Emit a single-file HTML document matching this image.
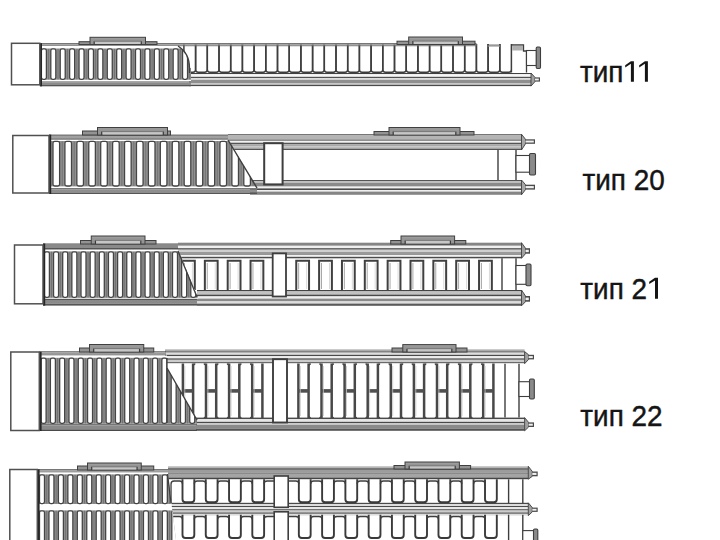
<!DOCTYPE html>
<html><head><meta charset="utf-8"><style>
html,body{margin:0;padding:0;background:#fff;overflow:hidden;}
svg{display:block;}
</style></head><body>
<svg width="720" height="540" viewBox="0 0 720 540">
<defs><clipPath id="c1"><path d="M40,46 H178 Q189.5,53 189.5,68 L191,68 V81.5 H40 Z"/></clipPath><clipPath id="c2"><path d="M49,139.5 H228 L257,188 V194.8 H49 Z"/></clipPath><clipPath id="c3"><path d="M43,250 H178 L197.5,297 V306 H43 Z"/></clipPath><clipPath id="c4"><path d="M39.5,355.3 H167 V368 L197,420 V432 H39.5 Z"/></clipPath><clipPath id="c5"><path d="M37.5,472.3 H167.5 L176,540 H37.5 Z"/></clipPath></defs>
<rect width="720" height="540" fill="#fff"/>
<path d="M183.90,44 V69.60000000000001 Q183.90,72.2 186.50,72.2 H193.00 Q195.60,72.2 195.60,69.60000000000001 V44" fill="none" stroke="#3e3e3e" stroke-width="1.5"/>
<path d="M195.60,44 V69.60000000000001 Q195.60,72.2 198.20,72.2 H204.70 Q207.30,72.2 207.30,69.60000000000001 V44" fill="none" stroke="#3e3e3e" stroke-width="1.5"/>
<path d="M207.30,44 V69.60000000000001 Q207.30,72.2 209.90,72.2 H216.40 Q219.00,72.2 219.00,69.60000000000001 V44" fill="none" stroke="#3e3e3e" stroke-width="1.5"/>
<path d="M219.00,44 V69.60000000000001 Q219.00,72.2 221.60,72.2 H228.10 Q230.70,72.2 230.70,69.60000000000001 V44" fill="none" stroke="#3e3e3e" stroke-width="1.5"/>
<path d="M230.70,44 V69.60000000000001 Q230.70,72.2 233.30,72.2 H239.80 Q242.40,72.2 242.40,69.60000000000001 V44" fill="none" stroke="#3e3e3e" stroke-width="1.5"/>
<path d="M242.40,44 V69.60000000000001 Q242.40,72.2 245.00,72.2 H251.50 Q254.10,72.2 254.10,69.60000000000001 V44" fill="none" stroke="#3e3e3e" stroke-width="1.5"/>
<path d="M254.10,44 V69.60000000000001 Q254.10,72.2 256.70,72.2 H263.20 Q265.80,72.2 265.80,69.60000000000001 V44" fill="none" stroke="#3e3e3e" stroke-width="1.5"/>
<path d="M265.80,44 V69.60000000000001 Q265.80,72.2 268.40,72.2 H274.90 Q277.50,72.2 277.50,69.60000000000001 V44" fill="none" stroke="#3e3e3e" stroke-width="1.5"/>
<path d="M277.50,44 V69.60000000000001 Q277.50,72.2 280.10,72.2 H286.60 Q289.20,72.2 289.20,69.60000000000001 V44" fill="none" stroke="#3e3e3e" stroke-width="1.5"/>
<path d="M289.20,44 V69.60000000000001 Q289.20,72.2 291.80,72.2 H298.30 Q300.90,72.2 300.90,69.60000000000001 V44" fill="none" stroke="#3e3e3e" stroke-width="1.5"/>
<path d="M300.90,44 V69.60000000000001 Q300.90,72.2 303.50,72.2 H310.00 Q312.60,72.2 312.60,69.60000000000001 V44" fill="none" stroke="#3e3e3e" stroke-width="1.5"/>
<path d="M312.60,44 V69.60000000000001 Q312.60,72.2 315.20,72.2 H321.70 Q324.30,72.2 324.30,69.60000000000001 V44" fill="none" stroke="#3e3e3e" stroke-width="1.5"/>
<path d="M324.30,44 V69.60000000000001 Q324.30,72.2 326.90,72.2 H333.40 Q336.00,72.2 336.00,69.60000000000001 V44" fill="none" stroke="#3e3e3e" stroke-width="1.5"/>
<path d="M336.00,44 V69.60000000000001 Q336.00,72.2 338.60,72.2 H345.10 Q347.70,72.2 347.70,69.60000000000001 V44" fill="none" stroke="#3e3e3e" stroke-width="1.5"/>
<path d="M347.70,44 V69.60000000000001 Q347.70,72.2 350.30,72.2 H356.80 Q359.40,72.2 359.40,69.60000000000001 V44" fill="none" stroke="#3e3e3e" stroke-width="1.5"/>
<path d="M359.40,44 V69.60000000000001 Q359.40,72.2 362.00,72.2 H368.50 Q371.10,72.2 371.10,69.60000000000001 V44" fill="none" stroke="#3e3e3e" stroke-width="1.5"/>
<path d="M371.10,44 V69.60000000000001 Q371.10,72.2 373.70,72.2 H380.20 Q382.80,72.2 382.80,69.60000000000001 V44" fill="none" stroke="#3e3e3e" stroke-width="1.5"/>
<path d="M382.80,44 V69.60000000000001 Q382.80,72.2 385.40,72.2 H391.90 Q394.50,72.2 394.50,69.60000000000001 V44" fill="none" stroke="#3e3e3e" stroke-width="1.5"/>
<path d="M394.50,44 V69.60000000000001 Q394.50,72.2 397.10,72.2 H403.60 Q406.20,72.2 406.20,69.60000000000001 V44" fill="none" stroke="#3e3e3e" stroke-width="1.5"/>
<path d="M406.20,44 V69.60000000000001 Q406.20,72.2 408.80,72.2 H415.30 Q417.90,72.2 417.90,69.60000000000001 V44" fill="none" stroke="#3e3e3e" stroke-width="1.5"/>
<path d="M417.90,44 V69.60000000000001 Q417.90,72.2 420.50,72.2 H427.00 Q429.60,72.2 429.60,69.60000000000001 V44" fill="none" stroke="#3e3e3e" stroke-width="1.5"/>
<path d="M429.60,44 V69.60000000000001 Q429.60,72.2 432.20,72.2 H438.70 Q441.30,72.2 441.30,69.60000000000001 V44" fill="none" stroke="#3e3e3e" stroke-width="1.5"/>
<path d="M441.30,44 V69.60000000000001 Q441.30,72.2 443.90,72.2 H450.40 Q453.00,72.2 453.00,69.60000000000001 V44" fill="none" stroke="#3e3e3e" stroke-width="1.5"/>
<path d="M453.00,44 V69.60000000000001 Q453.00,72.2 455.60,72.2 H462.10 Q464.70,72.2 464.70,69.60000000000001 V44" fill="none" stroke="#3e3e3e" stroke-width="1.5"/>
<path d="M464.70,44 V69.60000000000001 Q464.70,72.2 467.30,72.2 H473.80 Q476.40,72.2 476.40,69.60000000000001 V44" fill="none" stroke="#3e3e3e" stroke-width="1.5"/>
<path d="M476.40,44 V69.60000000000001 Q476.40,72.2 479.00,72.2 H485.50 Q488.10,72.2 488.10,69.60000000000001 V44" fill="none" stroke="#3e3e3e" stroke-width="1.5"/>
<path d="M488.10,44 V69.60000000000001 Q488.10,72.2 490.70,72.2 H497.20 Q499.80,72.2 499.80,69.60000000000001 V44" fill="none" stroke="#3e3e3e" stroke-width="1.5"/>
<path d="M499.80,44 V69.60000000000001 Q499.80,72.2 502.40,72.2 H508.90 Q511.50,72.2 511.50,69.60000000000001 V44" fill="none" stroke="#3e3e3e" stroke-width="1.5"/>
<rect x="189.00" y="73.00" width="342.00" height="1.20" fill="#404040"/>
<rect x="189.00" y="74.20" width="342.00" height="2.60" fill="#f6f6f6"/>
<rect x="189.00" y="76.80" width="342.00" height="1.20" fill="#505050"/>
<rect x="189.00" y="78.00" width="342.00" height="1.80" fill="#dcdcdc"/>
<rect x="189.00" y="79.80" width="342.00" height="3.70" fill="#8e8e8e"/>
<rect x="189.00" y="83.50" width="342.00" height="1.30" fill="#c8c8c8"/>
<rect x="189.00" y="84.80" width="342.00" height="1.30" fill="#4a4a4a"/>
<path d="M531,73 L535.00,77.4 L535.00,81.6 L531,86.1 Z" fill="#a0a0a0" stroke="#3e3e3e" stroke-width="0.9"/>
<rect x="535.00" y="77.40" width="5.00" height="4.20" fill="#4a4a4a"/>
<rect x="535.00" y="78.58" width="3.80" height="1.85" fill="#f0f0f0"/>
<rect x="40.00" y="43.20" width="436.50" height="1.00" fill="#555"/>
<rect x="40.00" y="44.20" width="436.50" height="1.20" fill="#9a9a9a"/>
<rect x="40.00" y="45.40" width="436.50" height="0.80" fill="#666"/>
<rect x="487.50" y="44.60" width="12.50" height="1.00" fill="#555"/>
<rect x="487.50" y="45.60" width="12.50" height="1.00" fill="#999"/>
<path d="M511.5,72.5 V45 H523.5 V51 H526.5 V72.5" fill="#fff" stroke="#3e3e3e" stroke-width="1.3"/>
<rect x="512.20" y="45.70" width="10.80" height="4.80" fill="#b0b0b0"/>
<rect x="526.50" y="50.50" width="10.00" height="15.00" fill="#fff" stroke="#3e3e3e" stroke-width="1.1"/>
<rect x="536.20" y="47.00" width="4.30" height="21.50" fill="#8a8a8a" stroke="#3e3e3e" stroke-width="1.1" rx="1.2"/>
<g clip-path="url(#c1)">
<rect x="40.00" y="46.00" width="152.00" height="35.50" fill="#fff"/>
<rect x="40.00" y="48.50" width="152.00" height="31.20" fill="#919191"/>
<line x1="39.20" y1="48.90" x2="39.20" y2="79.30" stroke="#737373" stroke-width="1.0"/>
<rect x="41.40" y="48.90" width="5.00" height="30.40" fill="#fff" stroke="#454545" stroke-width="1.3" rx="1.8"/>
<line x1="48.61" y1="48.90" x2="48.61" y2="79.30" stroke="#737373" stroke-width="1.0"/>
<rect x="50.81" y="48.90" width="5.00" height="30.40" fill="#fff" stroke="#454545" stroke-width="1.3" rx="1.8"/>
<line x1="58.02" y1="48.90" x2="58.02" y2="79.30" stroke="#737373" stroke-width="1.0"/>
<rect x="60.22" y="48.90" width="5.00" height="30.40" fill="#fff" stroke="#454545" stroke-width="1.3" rx="1.8"/>
<line x1="67.42" y1="48.90" x2="67.42" y2="79.30" stroke="#737373" stroke-width="1.0"/>
<rect x="69.63" y="48.90" width="5.00" height="30.40" fill="#fff" stroke="#454545" stroke-width="1.3" rx="1.8"/>
<line x1="76.83" y1="48.90" x2="76.83" y2="79.30" stroke="#737373" stroke-width="1.0"/>
<rect x="79.04" y="48.90" width="5.00" height="30.40" fill="#fff" stroke="#454545" stroke-width="1.3" rx="1.8"/>
<line x1="86.24" y1="48.90" x2="86.24" y2="79.30" stroke="#737373" stroke-width="1.0"/>
<rect x="88.45" y="48.90" width="5.00" height="30.40" fill="#fff" stroke="#454545" stroke-width="1.3" rx="1.8"/>
<line x1="95.65" y1="48.90" x2="95.65" y2="79.30" stroke="#737373" stroke-width="1.0"/>
<rect x="97.86" y="48.90" width="5.00" height="30.40" fill="#fff" stroke="#454545" stroke-width="1.3" rx="1.8"/>
<line x1="105.06" y1="48.90" x2="105.06" y2="79.30" stroke="#737373" stroke-width="1.0"/>
<rect x="107.27" y="48.90" width="5.00" height="30.40" fill="#fff" stroke="#454545" stroke-width="1.3" rx="1.8"/>
<line x1="114.47" y1="48.90" x2="114.47" y2="79.30" stroke="#737373" stroke-width="1.0"/>
<rect x="116.68" y="48.90" width="5.00" height="30.40" fill="#fff" stroke="#454545" stroke-width="1.3" rx="1.8"/>
<line x1="123.88" y1="48.90" x2="123.88" y2="79.30" stroke="#737373" stroke-width="1.0"/>
<rect x="126.09" y="48.90" width="5.00" height="30.40" fill="#fff" stroke="#454545" stroke-width="1.3" rx="1.8"/>
<line x1="133.29" y1="48.90" x2="133.29" y2="79.30" stroke="#737373" stroke-width="1.0"/>
<rect x="135.50" y="48.90" width="5.00" height="30.40" fill="#fff" stroke="#454545" stroke-width="1.3" rx="1.8"/>
<line x1="142.70" y1="48.90" x2="142.70" y2="79.30" stroke="#737373" stroke-width="1.0"/>
<rect x="144.91" y="48.90" width="5.00" height="30.40" fill="#fff" stroke="#454545" stroke-width="1.3" rx="1.8"/>
<line x1="152.11" y1="48.90" x2="152.11" y2="79.30" stroke="#737373" stroke-width="1.0"/>
<rect x="154.32" y="48.90" width="5.00" height="30.40" fill="#fff" stroke="#454545" stroke-width="1.3" rx="1.8"/>
<line x1="161.52" y1="48.90" x2="161.52" y2="79.30" stroke="#737373" stroke-width="1.0"/>
<rect x="163.73" y="48.90" width="5.00" height="30.40" fill="#fff" stroke="#454545" stroke-width="1.3" rx="1.8"/>
<line x1="170.93" y1="48.90" x2="170.93" y2="79.30" stroke="#737373" stroke-width="1.0"/>
<rect x="173.14" y="48.90" width="5.00" height="30.40" fill="#fff" stroke="#454545" stroke-width="1.3" rx="1.8"/>
<line x1="180.34" y1="48.90" x2="180.34" y2="79.30" stroke="#737373" stroke-width="1.0"/>
<rect x="182.55" y="48.90" width="5.00" height="30.40" fill="#fff" stroke="#454545" stroke-width="1.3" rx="1.8"/>
<line x1="189.75" y1="48.90" x2="189.75" y2="79.30" stroke="#737373" stroke-width="1.0"/>
<rect x="191.96" y="48.90" width="5.00" height="30.40" fill="#fff" stroke="#454545" stroke-width="1.3" rx="1.8"/>
<line x1="199.16" y1="48.90" x2="199.16" y2="79.30" stroke="#737373" stroke-width="1.0"/>
<rect x="201.37" y="48.90" width="5.00" height="30.40" fill="#fff" stroke="#454545" stroke-width="1.3" rx="1.8"/>
</g>
<path d="M178,46 Q189.5,53 189.5,68 V73" fill="none" stroke="#3e3e3e" stroke-width="1.3"/>
<rect x="40.00" y="81.50" width="151.00" height="0.80" fill="#555"/>
<rect x="40.00" y="82.30" width="151.00" height="2.70" fill="#8c8c8c"/>
<rect x="40.00" y="85.00" width="151.00" height="1.30" fill="#555"/>
<rect x="39.80" y="43.20" width="2.20" height="43.10" fill="#262626"/>
<rect x="11.50" y="43.30" width="28.30" height="41.50" fill="#fff" stroke="#505050" stroke-width="1.5"/>
<rect x="79.00" y="41.70" width="78.00" height="2.80" fill="#939393" stroke="#404040" stroke-width="1.0"/>
<rect x="90.00" y="37.30" width="55.50" height="7.20" fill="#959595" stroke="#404040" stroke-width="1.0"/>
<rect x="94.20" y="41.26" width="47.10" height="2.74" fill="#c6c6c6"/>
<line x1="94.20" y1="41.26" x2="94.20" y2="44.50" stroke="#3a3a3a" stroke-width="1.2"/>
<line x1="141.30" y1="41.26" x2="141.30" y2="44.50" stroke="#3a3a3a" stroke-width="1.2"/>
<line x1="94.20" y1="41.26" x2="141.30" y2="41.26" stroke="#6a6a6a" stroke-width="0.8"/>
<line x1="91.00" y1="38.70" x2="144.50" y2="38.70" stroke="#a0a0a0" stroke-width="0.8"/>
<rect x="397.00" y="41.20" width="78.00" height="3.30" fill="#939393" stroke="#404040" stroke-width="1.0"/>
<rect x="408.70" y="37.00" width="53.80" height="7.50" fill="#959595" stroke="#404040" stroke-width="1.0"/>
<rect x="412.90" y="41.12" width="45.40" height="2.88" fill="#c6c6c6"/>
<line x1="412.90" y1="41.12" x2="412.90" y2="44.50" stroke="#3a3a3a" stroke-width="1.2"/>
<line x1="458.30" y1="41.12" x2="458.30" y2="44.50" stroke="#3a3a3a" stroke-width="1.2"/>
<line x1="412.90" y1="41.12" x2="458.30" y2="41.12" stroke="#6a6a6a" stroke-width="0.8"/>
<line x1="409.70" y1="38.40" x2="461.50" y2="38.40" stroke="#a0a0a0" stroke-width="0.8"/>
<text x="0" y="0" transform="translate(580,81.7) scale(0.93,1)" font-family="Liberation Sans, sans-serif" font-size="30" fill="#151515" stroke="#151515" stroke-width="0.45">тип</text>
<path d="M630.90,61.20 H633.90 V81.70 H630.90 V63.80 L625.20,67.40 V65.20 Z" fill="#151515"/>
<path d="M644.90,61.20 H647.90 V81.70 H644.90 V63.80 L639.20,67.40 V65.20 Z" fill="#151515"/>
<rect x="228.00" y="134.20" width="293.50" height="1.20" fill="#555"/>
<rect x="228.00" y="135.40" width="293.50" height="4.20" fill="#b4b4b4"/>
<rect x="228.00" y="139.60" width="293.50" height="1.20" fill="#555"/>
<rect x="228.00" y="140.80" width="293.50" height="1.90" fill="#f2f2f2"/>
<rect x="228.00" y="142.70" width="293.50" height="1.70" fill="#555"/>
<rect x="228.00" y="144.40" width="293.50" height="2.00" fill="#a8a8a8"/>
<rect x="228.00" y="146.40" width="293.50" height="2.20" fill="#bdbdbd"/>
<rect x="228.00" y="148.60" width="293.50" height="1.40" fill="#555"/>
<path d="M521.5,134.2 L525.50,139.3 L525.50,143.8 L521.5,150 Z" fill="#a6a6a6" stroke="#3e3e3e" stroke-width="0.9"/>
<rect x="525.50" y="139.30" width="9.50" height="4.50" fill="#4a4a4a"/>
<rect x="525.50" y="140.56" width="8.30" height="1.98" fill="#f0f0f0"/>
<rect x="250.00" y="180.00" width="271.50" height="1.30" fill="#555"/>
<rect x="250.00" y="181.30" width="271.50" height="1.70" fill="#bdbdbd"/>
<rect x="250.00" y="183.00" width="271.50" height="3.60" fill="#8a8a8a"/>
<rect x="250.00" y="186.60" width="271.50" height="1.80" fill="#f0f0f0"/>
<rect x="250.00" y="188.40" width="271.50" height="1.60" fill="#4a4a4a"/>
<rect x="250.00" y="190.00" width="271.50" height="1.60" fill="#efefef"/>
<rect x="250.00" y="191.60" width="271.50" height="3.20" fill="#858585"/>
<path d="M521.5,180 L525.50,184.7 L525.50,189.6 L521.5,194.8 Z" fill="#a6a6a6" stroke="#3e3e3e" stroke-width="0.9"/>
<rect x="525.50" y="184.70" width="9.50" height="4.90" fill="#4a4a4a"/>
<rect x="525.50" y="186.07" width="8.30" height="2.16" fill="#f0f0f0"/>
<rect x="264.20" y="143.20" width="18.40" height="41.20" fill="#fff" stroke="#3e3e3e" stroke-width="2.0"/>
<line x1="498.00" y1="150.00" x2="498.00" y2="180.00" stroke="#3e3e3e" stroke-width="1.4"/>
<line x1="516.00" y1="150.00" x2="516.00" y2="180.00" stroke="#3e3e3e" stroke-width="1.4"/>
<rect x="516.00" y="155.50" width="14.00" height="16.70" fill="#fff" stroke="#3e3e3e" stroke-width="1.1"/>
<rect x="529.50" y="153.50" width="6.00" height="21.50" fill="#8a8a8a" stroke="#3e3e3e" stroke-width="1.1" rx="1.2"/>
<g clip-path="url(#c2)">
<rect x="49.00" y="139.00" width="211.00" height="50.00" fill="#fff"/>
<rect x="49.00" y="141.00" width="211.00" height="45.40" fill="#919191"/>
<line x1="50.34" y1="141.40" x2="50.34" y2="186.00" stroke="#737373" stroke-width="1.0"/>
<rect x="53.00" y="141.40" width="6.60" height="44.60" fill="#fff" stroke="#454545" stroke-width="1.3" rx="1.8"/>
<line x1="62.26" y1="141.40" x2="62.26" y2="186.00" stroke="#737373" stroke-width="1.0"/>
<rect x="64.92" y="141.40" width="6.60" height="44.60" fill="#fff" stroke="#454545" stroke-width="1.3" rx="1.8"/>
<line x1="74.19" y1="141.40" x2="74.19" y2="186.00" stroke="#737373" stroke-width="1.0"/>
<rect x="76.85" y="141.40" width="6.60" height="44.60" fill="#fff" stroke="#454545" stroke-width="1.3" rx="1.8"/>
<line x1="86.11" y1="141.40" x2="86.11" y2="186.00" stroke="#737373" stroke-width="1.0"/>
<rect x="88.77" y="141.40" width="6.60" height="44.60" fill="#fff" stroke="#454545" stroke-width="1.3" rx="1.8"/>
<line x1="98.04" y1="141.40" x2="98.04" y2="186.00" stroke="#737373" stroke-width="1.0"/>
<rect x="100.70" y="141.40" width="6.60" height="44.60" fill="#fff" stroke="#454545" stroke-width="1.3" rx="1.8"/>
<line x1="109.96" y1="141.40" x2="109.96" y2="186.00" stroke="#737373" stroke-width="1.0"/>
<rect x="112.62" y="141.40" width="6.60" height="44.60" fill="#fff" stroke="#454545" stroke-width="1.3" rx="1.8"/>
<line x1="121.89" y1="141.40" x2="121.89" y2="186.00" stroke="#737373" stroke-width="1.0"/>
<rect x="124.55" y="141.40" width="6.60" height="44.60" fill="#fff" stroke="#454545" stroke-width="1.3" rx="1.8"/>
<line x1="133.81" y1="141.40" x2="133.81" y2="186.00" stroke="#737373" stroke-width="1.0"/>
<rect x="136.47" y="141.40" width="6.60" height="44.60" fill="#fff" stroke="#454545" stroke-width="1.3" rx="1.8"/>
<line x1="145.74" y1="141.40" x2="145.74" y2="186.00" stroke="#737373" stroke-width="1.0"/>
<rect x="148.40" y="141.40" width="6.60" height="44.60" fill="#fff" stroke="#454545" stroke-width="1.3" rx="1.8"/>
<line x1="157.66" y1="141.40" x2="157.66" y2="186.00" stroke="#737373" stroke-width="1.0"/>
<rect x="160.32" y="141.40" width="6.60" height="44.60" fill="#fff" stroke="#454545" stroke-width="1.3" rx="1.8"/>
<line x1="169.59" y1="141.40" x2="169.59" y2="186.00" stroke="#737373" stroke-width="1.0"/>
<rect x="172.25" y="141.40" width="6.60" height="44.60" fill="#fff" stroke="#454545" stroke-width="1.3" rx="1.8"/>
<line x1="181.51" y1="141.40" x2="181.51" y2="186.00" stroke="#737373" stroke-width="1.0"/>
<rect x="184.18" y="141.40" width="6.60" height="44.60" fill="#fff" stroke="#454545" stroke-width="1.3" rx="1.8"/>
<line x1="193.44" y1="141.40" x2="193.44" y2="186.00" stroke="#737373" stroke-width="1.0"/>
<rect x="196.10" y="141.40" width="6.60" height="44.60" fill="#fff" stroke="#454545" stroke-width="1.3" rx="1.8"/>
<line x1="205.36" y1="141.40" x2="205.36" y2="186.00" stroke="#737373" stroke-width="1.0"/>
<rect x="208.03" y="141.40" width="6.60" height="44.60" fill="#fff" stroke="#454545" stroke-width="1.3" rx="1.8"/>
<line x1="217.29" y1="141.40" x2="217.29" y2="186.00" stroke="#737373" stroke-width="1.0"/>
<rect x="219.95" y="141.40" width="6.60" height="44.60" fill="#fff" stroke="#454545" stroke-width="1.3" rx="1.8"/>
<line x1="229.21" y1="141.40" x2="229.21" y2="186.00" stroke="#737373" stroke-width="1.0"/>
<rect x="231.88" y="141.40" width="6.60" height="44.60" fill="#fff" stroke="#454545" stroke-width="1.3" rx="1.8"/>
<line x1="241.14" y1="141.40" x2="241.14" y2="186.00" stroke="#737373" stroke-width="1.0"/>
<rect x="243.80" y="141.40" width="6.60" height="44.60" fill="#fff" stroke="#454545" stroke-width="1.3" rx="1.8"/>
<line x1="253.06" y1="141.40" x2="253.06" y2="186.00" stroke="#737373" stroke-width="1.0"/>
<rect x="255.73" y="141.40" width="6.60" height="44.60" fill="#fff" stroke="#454545" stroke-width="1.3" rx="1.8"/>
<line x1="264.99" y1="141.40" x2="264.99" y2="186.00" stroke="#737373" stroke-width="1.0"/>
<rect x="267.65" y="141.40" width="6.60" height="44.60" fill="#fff" stroke="#454545" stroke-width="1.3" rx="1.8"/>
</g>
<line x1="228.00" y1="140.00" x2="257.00" y2="188.00" stroke="#3e3e3e" stroke-width="1.4"/>
<rect x="49.00" y="134.60" width="179.00" height="1.20" fill="#555"/>
<rect x="49.00" y="135.80" width="179.00" height="2.60" fill="#a0a0a0"/>
<rect x="49.00" y="138.40" width="179.00" height="1.20" fill="#555"/>
<rect x="49.00" y="188.20" width="208.00" height="1.20" fill="#555"/>
<rect x="49.00" y="189.40" width="208.00" height="3.10" fill="#8e8e8e"/>
<rect x="49.00" y="192.50" width="208.00" height="1.50" fill="#555"/>
<rect x="49.00" y="134.60" width="2.20" height="59.40" fill="#262626"/>
<rect x="12.80" y="135.50" width="36.20" height="57.50" fill="#fff" stroke="#505050" stroke-width="1.5"/>
<rect x="82.50" y="131.00" width="88.00" height="4.00" fill="#939393" stroke="#404040" stroke-width="1.0"/>
<rect x="97.50" y="127.50" width="70.00" height="7.50" fill="#959595" stroke="#404040" stroke-width="1.0"/>
<rect x="101.70" y="131.62" width="61.60" height="2.88" fill="#c6c6c6"/>
<line x1="101.70" y1="131.62" x2="101.70" y2="135.00" stroke="#3a3a3a" stroke-width="1.2"/>
<line x1="163.30" y1="131.62" x2="163.30" y2="135.00" stroke="#3a3a3a" stroke-width="1.2"/>
<line x1="101.70" y1="131.62" x2="163.30" y2="131.62" stroke="#6a6a6a" stroke-width="0.8"/>
<line x1="98.50" y1="128.90" x2="166.50" y2="128.90" stroke="#a0a0a0" stroke-width="0.8"/>
<rect x="374.00" y="131.50" width="100.00" height="3.50" fill="#939393" stroke="#404040" stroke-width="1.0"/>
<rect x="389.00" y="127.50" width="71.00" height="7.50" fill="#959595" stroke="#404040" stroke-width="1.0"/>
<rect x="393.20" y="131.62" width="62.60" height="2.88" fill="#c6c6c6"/>
<line x1="393.20" y1="131.62" x2="393.20" y2="135.00" stroke="#3a3a3a" stroke-width="1.2"/>
<line x1="455.80" y1="131.62" x2="455.80" y2="135.00" stroke="#3a3a3a" stroke-width="1.2"/>
<line x1="393.20" y1="131.62" x2="455.80" y2="131.62" stroke="#6a6a6a" stroke-width="0.8"/>
<line x1="390.00" y1="128.90" x2="459.00" y2="128.90" stroke="#a0a0a0" stroke-width="0.8"/>
<text x="0" y="0" transform="translate(582.5,190.3) scale(0.93,1)" font-family="Liberation Sans, sans-serif" font-size="30" fill="#151515" stroke="#151515" stroke-width="0.45">тип 20</text>
<rect x="178.00" y="242.70" width="343.50" height="3.10" fill="#858585"/>
<rect x="178.00" y="245.80" width="343.50" height="2.40" fill="#efefef"/>
<rect x="178.00" y="248.20" width="343.50" height="1.50" fill="#4a4a4a"/>
<rect x="178.00" y="249.70" width="343.50" height="2.30" fill="#cfcfcf"/>
<rect x="178.00" y="252.00" width="343.50" height="2.30" fill="#9a9a9a"/>
<rect x="178.00" y="254.30" width="343.50" height="0.90" fill="#777"/>
<rect x="178.00" y="255.20" width="343.50" height="1.60" fill="#f4f4f4"/>
<rect x="178.00" y="256.80" width="343.50" height="1.50" fill="#4a4a4a"/>
<path d="M521.5,242.7 L525.50,248.2 L525.50,253.7 L521.5,258.3 Z" fill="#a0a0a0" stroke="#3e3e3e" stroke-width="0.9"/>
<rect x="525.50" y="248.20" width="4.50" height="5.50" fill="#4a4a4a"/>
<rect x="525.50" y="249.74" width="3.30" height="2.42" fill="#f0f0f0"/>
<rect x="197.00" y="290.00" width="324.50" height="1.40" fill="#444"/>
<rect x="197.00" y="291.40" width="324.50" height="3.20" fill="#c2c2c2"/>
<rect x="197.00" y="294.60" width="324.50" height="1.80" fill="#4a4a4a"/>
<rect x="197.00" y="296.40" width="324.50" height="2.20" fill="#f0f0f0"/>
<rect x="197.00" y="298.60" width="324.50" height="2.80" fill="#8a8a8a"/>
<rect x="197.00" y="301.40" width="324.50" height="2.20" fill="#dddddd"/>
<rect x="197.00" y="303.60" width="324.50" height="2.20" fill="#5a5a5a"/>
<path d="M521.5,290 L525.50,296 L525.50,301.7 L521.5,305.8 Z" fill="#a0a0a0" stroke="#3e3e3e" stroke-width="0.9"/>
<rect x="525.50" y="296.00" width="4.50" height="5.70" fill="#4a4a4a"/>
<rect x="525.50" y="297.60" width="3.30" height="2.51" fill="#f0f0f0"/>
<path d="M182.00,290 V260.8 H194.80 V290" fill="none" stroke="#404040" stroke-width="2.0"/>
<line x1="184.40" y1="263.00" x2="184.40" y2="289.00" stroke="#a8a8a8" stroke-width="1.0"/>
<line x1="192.40" y1="263.00" x2="192.40" y2="289.00" stroke="#d0d0d0" stroke-width="0.8"/>
<path d="M204.85,290 V260.8 H217.65 V290" fill="none" stroke="#404040" stroke-width="2.0"/>
<line x1="207.25" y1="263.00" x2="207.25" y2="289.00" stroke="#a8a8a8" stroke-width="1.0"/>
<line x1="215.25" y1="263.00" x2="215.25" y2="289.00" stroke="#d0d0d0" stroke-width="0.8"/>
<path d="M227.70,290 V260.8 H240.50 V290" fill="none" stroke="#404040" stroke-width="2.0"/>
<line x1="230.10" y1="263.00" x2="230.10" y2="289.00" stroke="#a8a8a8" stroke-width="1.0"/>
<line x1="238.10" y1="263.00" x2="238.10" y2="289.00" stroke="#d0d0d0" stroke-width="0.8"/>
<path d="M250.55,290 V260.8 H263.35 V290" fill="none" stroke="#404040" stroke-width="2.0"/>
<line x1="252.95" y1="263.00" x2="252.95" y2="289.00" stroke="#a8a8a8" stroke-width="1.0"/>
<line x1="260.95" y1="263.00" x2="260.95" y2="289.00" stroke="#d0d0d0" stroke-width="0.8"/>
<path d="M296.25,290 V260.8 H309.05 V290" fill="none" stroke="#404040" stroke-width="2.0"/>
<line x1="298.65" y1="263.00" x2="298.65" y2="289.00" stroke="#a8a8a8" stroke-width="1.0"/>
<line x1="306.65" y1="263.00" x2="306.65" y2="289.00" stroke="#d0d0d0" stroke-width="0.8"/>
<path d="M319.10,290 V260.8 H331.90 V290" fill="none" stroke="#404040" stroke-width="2.0"/>
<line x1="321.50" y1="263.00" x2="321.50" y2="289.00" stroke="#a8a8a8" stroke-width="1.0"/>
<line x1="329.50" y1="263.00" x2="329.50" y2="289.00" stroke="#d0d0d0" stroke-width="0.8"/>
<path d="M341.95,290 V260.8 H354.75 V290" fill="none" stroke="#404040" stroke-width="2.0"/>
<line x1="344.35" y1="263.00" x2="344.35" y2="289.00" stroke="#a8a8a8" stroke-width="1.0"/>
<line x1="352.35" y1="263.00" x2="352.35" y2="289.00" stroke="#d0d0d0" stroke-width="0.8"/>
<path d="M364.80,290 V260.8 H377.60 V290" fill="none" stroke="#404040" stroke-width="2.0"/>
<line x1="367.20" y1="263.00" x2="367.20" y2="289.00" stroke="#a8a8a8" stroke-width="1.0"/>
<line x1="375.20" y1="263.00" x2="375.20" y2="289.00" stroke="#d0d0d0" stroke-width="0.8"/>
<path d="M387.65,290 V260.8 H400.45 V290" fill="none" stroke="#404040" stroke-width="2.0"/>
<line x1="390.05" y1="263.00" x2="390.05" y2="289.00" stroke="#a8a8a8" stroke-width="1.0"/>
<line x1="398.05" y1="263.00" x2="398.05" y2="289.00" stroke="#d0d0d0" stroke-width="0.8"/>
<path d="M410.50,290 V260.8 H423.30 V290" fill="none" stroke="#404040" stroke-width="2.0"/>
<line x1="412.90" y1="263.00" x2="412.90" y2="289.00" stroke="#a8a8a8" stroke-width="1.0"/>
<line x1="420.90" y1="263.00" x2="420.90" y2="289.00" stroke="#d0d0d0" stroke-width="0.8"/>
<path d="M433.35,290 V260.8 H446.15 V290" fill="none" stroke="#404040" stroke-width="2.0"/>
<line x1="435.75" y1="263.00" x2="435.75" y2="289.00" stroke="#a8a8a8" stroke-width="1.0"/>
<line x1="443.75" y1="263.00" x2="443.75" y2="289.00" stroke="#d0d0d0" stroke-width="0.8"/>
<path d="M456.20,290 V260.8 H469.00 V290" fill="none" stroke="#404040" stroke-width="2.0"/>
<line x1="458.60" y1="263.00" x2="458.60" y2="289.00" stroke="#a8a8a8" stroke-width="1.0"/>
<line x1="466.60" y1="263.00" x2="466.60" y2="289.00" stroke="#d0d0d0" stroke-width="0.8"/>
<path d="M479.05,290 V260.8 H491.85 V290" fill="none" stroke="#404040" stroke-width="2.0"/>
<line x1="481.45" y1="263.00" x2="481.45" y2="289.00" stroke="#a8a8a8" stroke-width="1.0"/>
<line x1="489.45" y1="263.00" x2="489.45" y2="289.00" stroke="#d0d0d0" stroke-width="0.8"/>
<rect x="272.70" y="253.40" width="13.30" height="43.10" fill="#fff" stroke="#3e3e3e" stroke-width="1.8"/>
<line x1="502.00" y1="258.30" x2="502.00" y2="290.00" stroke="#3e3e3e" stroke-width="1.4"/>
<line x1="516.00" y1="258.30" x2="516.00" y2="290.00" stroke="#3e3e3e" stroke-width="1.4"/>
<rect x="516.00" y="265.50" width="10.50" height="18.80" fill="#fff" stroke="#3e3e3e" stroke-width="1.1"/>
<rect x="526.00" y="264.00" width="5.00" height="21.70" fill="#8a8a8a" stroke="#3e3e3e" stroke-width="1.1" rx="1.2"/>
<g clip-path="url(#c3)">
<rect x="43.00" y="249.00" width="157.00" height="50.00" fill="#fff"/>
<rect x="43.00" y="251.40" width="157.00" height="46.40" fill="#919191"/>
<line x1="42.32" y1="251.80" x2="42.32" y2="297.40" stroke="#737373" stroke-width="1.0"/>
<rect x="44.40" y="251.80" width="5.00" height="45.60" fill="#fff" stroke="#454545" stroke-width="1.3" rx="1.8"/>
<line x1="51.47" y1="251.80" x2="51.47" y2="297.40" stroke="#737373" stroke-width="1.0"/>
<rect x="53.55" y="251.80" width="5.00" height="45.60" fill="#fff" stroke="#454545" stroke-width="1.3" rx="1.8"/>
<line x1="60.62" y1="251.80" x2="60.62" y2="297.40" stroke="#737373" stroke-width="1.0"/>
<rect x="62.70" y="251.80" width="5.00" height="45.60" fill="#fff" stroke="#454545" stroke-width="1.3" rx="1.8"/>
<line x1="69.78" y1="251.80" x2="69.78" y2="297.40" stroke="#737373" stroke-width="1.0"/>
<rect x="71.85" y="251.80" width="5.00" height="45.60" fill="#fff" stroke="#454545" stroke-width="1.3" rx="1.8"/>
<line x1="78.93" y1="251.80" x2="78.93" y2="297.40" stroke="#737373" stroke-width="1.0"/>
<rect x="81.00" y="251.80" width="5.00" height="45.60" fill="#fff" stroke="#454545" stroke-width="1.3" rx="1.8"/>
<line x1="88.08" y1="251.80" x2="88.08" y2="297.40" stroke="#737373" stroke-width="1.0"/>
<rect x="90.15" y="251.80" width="5.00" height="45.60" fill="#fff" stroke="#454545" stroke-width="1.3" rx="1.8"/>
<line x1="97.23" y1="251.80" x2="97.23" y2="297.40" stroke="#737373" stroke-width="1.0"/>
<rect x="99.30" y="251.80" width="5.00" height="45.60" fill="#fff" stroke="#454545" stroke-width="1.3" rx="1.8"/>
<line x1="106.38" y1="251.80" x2="106.38" y2="297.40" stroke="#737373" stroke-width="1.0"/>
<rect x="108.45" y="251.80" width="5.00" height="45.60" fill="#fff" stroke="#454545" stroke-width="1.3" rx="1.8"/>
<line x1="115.53" y1="251.80" x2="115.53" y2="297.40" stroke="#737373" stroke-width="1.0"/>
<rect x="117.60" y="251.80" width="5.00" height="45.60" fill="#fff" stroke="#454545" stroke-width="1.3" rx="1.8"/>
<line x1="124.68" y1="251.80" x2="124.68" y2="297.40" stroke="#737373" stroke-width="1.0"/>
<rect x="126.75" y="251.80" width="5.00" height="45.60" fill="#fff" stroke="#454545" stroke-width="1.3" rx="1.8"/>
<line x1="133.83" y1="251.80" x2="133.83" y2="297.40" stroke="#737373" stroke-width="1.0"/>
<rect x="135.90" y="251.80" width="5.00" height="45.60" fill="#fff" stroke="#454545" stroke-width="1.3" rx="1.8"/>
<line x1="142.98" y1="251.80" x2="142.98" y2="297.40" stroke="#737373" stroke-width="1.0"/>
<rect x="145.05" y="251.80" width="5.00" height="45.60" fill="#fff" stroke="#454545" stroke-width="1.3" rx="1.8"/>
<line x1="152.13" y1="251.80" x2="152.13" y2="297.40" stroke="#737373" stroke-width="1.0"/>
<rect x="154.20" y="251.80" width="5.00" height="45.60" fill="#fff" stroke="#454545" stroke-width="1.3" rx="1.8"/>
<line x1="161.28" y1="251.80" x2="161.28" y2="297.40" stroke="#737373" stroke-width="1.0"/>
<rect x="163.35" y="251.80" width="5.00" height="45.60" fill="#fff" stroke="#454545" stroke-width="1.3" rx="1.8"/>
<line x1="170.43" y1="251.80" x2="170.43" y2="297.40" stroke="#737373" stroke-width="1.0"/>
<rect x="172.50" y="251.80" width="5.00" height="45.60" fill="#fff" stroke="#454545" stroke-width="1.3" rx="1.8"/>
<line x1="179.58" y1="251.80" x2="179.58" y2="297.40" stroke="#737373" stroke-width="1.0"/>
<rect x="181.65" y="251.80" width="5.00" height="45.60" fill="#fff" stroke="#454545" stroke-width="1.3" rx="1.8"/>
<line x1="188.73" y1="251.80" x2="188.73" y2="297.40" stroke="#737373" stroke-width="1.0"/>
<rect x="190.80" y="251.80" width="5.00" height="45.60" fill="#fff" stroke="#454545" stroke-width="1.3" rx="1.8"/>
<line x1="197.88" y1="251.80" x2="197.88" y2="297.40" stroke="#737373" stroke-width="1.0"/>
<rect x="199.95" y="251.80" width="5.00" height="45.60" fill="#fff" stroke="#454545" stroke-width="1.3" rx="1.8"/>
<line x1="207.03" y1="251.80" x2="207.03" y2="297.40" stroke="#737373" stroke-width="1.0"/>
<rect x="209.10" y="251.80" width="5.00" height="45.60" fill="#fff" stroke="#454545" stroke-width="1.3" rx="1.8"/>
</g>
<line x1="178.00" y1="251.00" x2="197.00" y2="297.00" stroke="#3e3e3e" stroke-width="1.3"/>
<rect x="43.00" y="243.50" width="135.00" height="1.20" fill="#555"/>
<rect x="43.00" y="244.70" width="135.00" height="3.30" fill="#8a8a8a"/>
<rect x="43.00" y="248.00" width="135.00" height="1.50" fill="#555"/>
<rect x="43.00" y="298.80" width="154.00" height="1.20" fill="#555"/>
<rect x="43.00" y="300.00" width="154.00" height="3.80" fill="#8a8a8a"/>
<rect x="43.00" y="303.80" width="154.00" height="1.80" fill="#555"/>
<rect x="43.00" y="243.50" width="2.20" height="62.10" fill="#262626"/>
<rect x="14.50" y="245.00" width="28.50" height="58.80" fill="#fff" stroke="#505050" stroke-width="1.5"/>
<rect x="80.50" y="240.50" width="75.50" height="3.50" fill="#939393" stroke="#404040" stroke-width="1.0"/>
<rect x="91.25" y="236.00" width="53.75" height="8.00" fill="#959595" stroke="#404040" stroke-width="1.0"/>
<rect x="95.45" y="240.40" width="45.35" height="3.10" fill="#c6c6c6"/>
<line x1="95.45" y1="240.40" x2="95.45" y2="244.00" stroke="#3a3a3a" stroke-width="1.2"/>
<line x1="140.80" y1="240.40" x2="140.80" y2="244.00" stroke="#3a3a3a" stroke-width="1.2"/>
<line x1="95.45" y1="240.40" x2="140.80" y2="240.40" stroke="#6a6a6a" stroke-width="0.8"/>
<line x1="92.25" y1="237.40" x2="144.00" y2="237.40" stroke="#a0a0a0" stroke-width="0.8"/>
<rect x="390.70" y="240.50" width="75.10" height="3.50" fill="#939393" stroke="#404040" stroke-width="1.0"/>
<rect x="401.00" y="236.00" width="53.60" height="8.00" fill="#959595" stroke="#404040" stroke-width="1.0"/>
<rect x="405.20" y="240.40" width="45.20" height="3.10" fill="#c6c6c6"/>
<line x1="405.20" y1="240.40" x2="405.20" y2="244.00" stroke="#3a3a3a" stroke-width="1.2"/>
<line x1="450.40" y1="240.40" x2="450.40" y2="244.00" stroke="#3a3a3a" stroke-width="1.2"/>
<line x1="405.20" y1="240.40" x2="450.40" y2="240.40" stroke="#6a6a6a" stroke-width="0.8"/>
<line x1="402.00" y1="237.40" x2="453.60" y2="237.40" stroke="#a0a0a0" stroke-width="0.8"/>
<text x="0" y="0" transform="translate(580.3,298.7) scale(0.93,1)" font-family="Liberation Sans, sans-serif" font-size="30" fill="#151515" stroke="#151515" stroke-width="0.45">тип 2</text>
<path d="M655.00,277.80 H658.00 V298.70 H655.00 V280.40 L649.20,284.00 V281.80 Z" fill="#151515"/>
<rect x="165.00" y="349.40" width="359.60" height="1.00" fill="#aaaaaa"/>
<rect x="165.00" y="350.40" width="359.60" height="1.00" fill="#8a8a8a"/>
<rect x="165.00" y="351.40" width="359.60" height="1.20" fill="#505050"/>
<rect x="165.00" y="352.60" width="359.60" height="2.20" fill="#dddddd"/>
<rect x="165.00" y="354.80" width="359.60" height="1.40" fill="#4a4a4a"/>
<rect x="165.00" y="356.20" width="359.60" height="2.20" fill="#eeeeee"/>
<rect x="165.00" y="358.40" width="359.60" height="1.40" fill="#4a4a4a"/>
<rect x="165.00" y="359.80" width="359.60" height="2.20" fill="#cccccc"/>
<rect x="165.00" y="362.00" width="359.60" height="1.20" fill="#6a6a6a"/>
<path d="M524.6,351.6 L528.60,354.8 L528.60,359.4 L524.6,363.7 Z" fill="#a0a0a0" stroke="#3e3e3e" stroke-width="0.9"/>
<rect x="528.60" y="354.80" width="5.40" height="4.60" fill="#4a4a4a"/>
<rect x="528.60" y="356.09" width="4.20" height="2.02" fill="#f0f0f0"/>
<rect x="196.00" y="417.60" width="328.60" height="1.60" fill="#4a4a4a"/>
<rect x="196.00" y="419.20" width="328.60" height="2.60" fill="#e6e6e6"/>
<rect x="196.00" y="421.80" width="328.60" height="1.40" fill="#4a4a4a"/>
<rect x="196.00" y="423.20" width="328.60" height="1.80" fill="#c6c6c6"/>
<rect x="196.00" y="425.00" width="328.60" height="3.60" fill="#8a8a8a"/>
<rect x="196.00" y="428.60" width="328.60" height="2.20" fill="#555"/>
<path d="M524.6,417.6 L528.60,422.4 L528.60,427 L524.6,430.8 Z" fill="#a0a0a0" stroke="#3e3e3e" stroke-width="0.9"/>
<rect x="528.60" y="422.40" width="5.40" height="4.60" fill="#4a4a4a"/>
<rect x="528.60" y="423.69" width="4.20" height="2.02" fill="#f0f0f0"/>
<line x1="182.90" y1="363.50" x2="182.90" y2="418.00" stroke="#484848" stroke-width="2.5"/>
<line x1="193.10" y1="363.50" x2="193.10" y2="418.00" stroke="#484848" stroke-width="2.5"/>
<line x1="182.90" y1="390.90" x2="193.10" y2="390.90" stroke="#505050" stroke-width="3.6"/>
<line x1="184.80" y1="366.00" x2="184.80" y2="416.00" stroke="#c4c4c4" stroke-width="0.8"/>
<line x1="206.00" y1="363.50" x2="206.00" y2="418.00" stroke="#484848" stroke-width="2.5"/>
<line x1="216.20" y1="363.50" x2="216.20" y2="418.00" stroke="#484848" stroke-width="2.5"/>
<line x1="206.00" y1="390.90" x2="216.20" y2="390.90" stroke="#505050" stroke-width="3.6"/>
<line x1="207.90" y1="366.00" x2="207.90" y2="416.00" stroke="#c4c4c4" stroke-width="0.8"/>
<line x1="229.10" y1="363.50" x2="229.10" y2="418.00" stroke="#484848" stroke-width="2.5"/>
<line x1="239.30" y1="363.50" x2="239.30" y2="418.00" stroke="#484848" stroke-width="2.5"/>
<line x1="229.10" y1="390.90" x2="239.30" y2="390.90" stroke="#505050" stroke-width="3.6"/>
<line x1="231.00" y1="366.00" x2="231.00" y2="416.00" stroke="#c4c4c4" stroke-width="0.8"/>
<line x1="252.20" y1="363.50" x2="252.20" y2="418.00" stroke="#484848" stroke-width="2.5"/>
<line x1="262.40" y1="363.50" x2="262.40" y2="418.00" stroke="#484848" stroke-width="2.5"/>
<line x1="252.20" y1="390.90" x2="262.40" y2="390.90" stroke="#505050" stroke-width="3.6"/>
<line x1="254.10" y1="366.00" x2="254.10" y2="416.00" stroke="#c4c4c4" stroke-width="0.8"/>
<line x1="298.40" y1="363.50" x2="298.40" y2="418.00" stroke="#484848" stroke-width="2.5"/>
<line x1="308.60" y1="363.50" x2="308.60" y2="418.00" stroke="#484848" stroke-width="2.5"/>
<line x1="298.40" y1="390.90" x2="308.60" y2="390.90" stroke="#505050" stroke-width="3.6"/>
<line x1="300.30" y1="366.00" x2="300.30" y2="416.00" stroke="#c4c4c4" stroke-width="0.8"/>
<line x1="321.50" y1="363.50" x2="321.50" y2="418.00" stroke="#484848" stroke-width="2.5"/>
<line x1="331.70" y1="363.50" x2="331.70" y2="418.00" stroke="#484848" stroke-width="2.5"/>
<line x1="321.50" y1="390.90" x2="331.70" y2="390.90" stroke="#505050" stroke-width="3.6"/>
<line x1="323.40" y1="366.00" x2="323.40" y2="416.00" stroke="#c4c4c4" stroke-width="0.8"/>
<line x1="344.60" y1="363.50" x2="344.60" y2="418.00" stroke="#484848" stroke-width="2.5"/>
<line x1="354.80" y1="363.50" x2="354.80" y2="418.00" stroke="#484848" stroke-width="2.5"/>
<line x1="344.60" y1="390.90" x2="354.80" y2="390.90" stroke="#505050" stroke-width="3.6"/>
<line x1="346.50" y1="366.00" x2="346.50" y2="416.00" stroke="#c4c4c4" stroke-width="0.8"/>
<line x1="367.70" y1="363.50" x2="367.70" y2="418.00" stroke="#484848" stroke-width="2.5"/>
<line x1="377.90" y1="363.50" x2="377.90" y2="418.00" stroke="#484848" stroke-width="2.5"/>
<line x1="367.70" y1="390.90" x2="377.90" y2="390.90" stroke="#505050" stroke-width="3.6"/>
<line x1="369.60" y1="366.00" x2="369.60" y2="416.00" stroke="#c4c4c4" stroke-width="0.8"/>
<line x1="390.80" y1="363.50" x2="390.80" y2="418.00" stroke="#484848" stroke-width="2.5"/>
<line x1="401.00" y1="363.50" x2="401.00" y2="418.00" stroke="#484848" stroke-width="2.5"/>
<line x1="390.80" y1="390.90" x2="401.00" y2="390.90" stroke="#505050" stroke-width="3.6"/>
<line x1="392.70" y1="366.00" x2="392.70" y2="416.00" stroke="#c4c4c4" stroke-width="0.8"/>
<line x1="413.90" y1="363.50" x2="413.90" y2="418.00" stroke="#484848" stroke-width="2.5"/>
<line x1="424.10" y1="363.50" x2="424.10" y2="418.00" stroke="#484848" stroke-width="2.5"/>
<line x1="413.90" y1="390.90" x2="424.10" y2="390.90" stroke="#505050" stroke-width="3.6"/>
<line x1="415.80" y1="366.00" x2="415.80" y2="416.00" stroke="#c4c4c4" stroke-width="0.8"/>
<line x1="437.00" y1="363.50" x2="437.00" y2="418.00" stroke="#484848" stroke-width="2.5"/>
<line x1="447.20" y1="363.50" x2="447.20" y2="418.00" stroke="#484848" stroke-width="2.5"/>
<line x1="437.00" y1="390.90" x2="447.20" y2="390.90" stroke="#505050" stroke-width="3.6"/>
<line x1="438.90" y1="366.00" x2="438.90" y2="416.00" stroke="#c4c4c4" stroke-width="0.8"/>
<line x1="460.10" y1="363.50" x2="460.10" y2="418.00" stroke="#484848" stroke-width="2.5"/>
<line x1="470.30" y1="363.50" x2="470.30" y2="418.00" stroke="#484848" stroke-width="2.5"/>
<line x1="460.10" y1="390.90" x2="470.30" y2="390.90" stroke="#505050" stroke-width="3.6"/>
<line x1="462.00" y1="366.00" x2="462.00" y2="416.00" stroke="#c4c4c4" stroke-width="0.8"/>
<line x1="483.20" y1="363.50" x2="483.20" y2="418.00" stroke="#484848" stroke-width="2.5"/>
<line x1="493.40" y1="363.50" x2="493.40" y2="418.00" stroke="#484848" stroke-width="2.5"/>
<line x1="483.20" y1="390.90" x2="493.40" y2="390.90" stroke="#505050" stroke-width="3.6"/>
<line x1="485.10" y1="366.00" x2="485.10" y2="416.00" stroke="#c4c4c4" stroke-width="0.8"/>
<path d="M193.10,366.2 Q193.10,364 195.30,364 M203.80,364 Q206.00,364 206.00,366.2" fill="none" stroke="#484848" stroke-width="1.4"/>
<path d="M193.10,415.40000000000003 Q193.10,417.6 195.30,417.6 M203.80,417.6 Q206.00,417.6 206.00,415.40000000000003" fill="none" stroke="#484848" stroke-width="1.4"/>
<path d="M216.20,366.2 Q216.20,364 218.40,364 M226.90,364 Q229.10,364 229.10,366.2" fill="none" stroke="#484848" stroke-width="1.4"/>
<path d="M216.20,415.40000000000003 Q216.20,417.6 218.40,417.6 M226.90,417.6 Q229.10,417.6 229.10,415.40000000000003" fill="none" stroke="#484848" stroke-width="1.4"/>
<path d="M239.30,366.2 Q239.30,364 241.50,364 M250.00,364 Q252.20,364 252.20,366.2" fill="none" stroke="#484848" stroke-width="1.4"/>
<path d="M239.30,415.40000000000003 Q239.30,417.6 241.50,417.6 M250.00,417.6 Q252.20,417.6 252.20,415.40000000000003" fill="none" stroke="#484848" stroke-width="1.4"/>
<path d="M308.60,366.2 Q308.60,364 310.80,364 M319.30,364 Q321.50,364 321.50,366.2" fill="none" stroke="#484848" stroke-width="1.4"/>
<path d="M308.60,415.40000000000003 Q308.60,417.6 310.80,417.6 M319.30,417.6 Q321.50,417.6 321.50,415.40000000000003" fill="none" stroke="#484848" stroke-width="1.4"/>
<path d="M331.70,366.2 Q331.70,364 333.90,364 M342.40,364 Q344.60,364 344.60,366.2" fill="none" stroke="#484848" stroke-width="1.4"/>
<path d="M331.70,415.40000000000003 Q331.70,417.6 333.90,417.6 M342.40,417.6 Q344.60,417.6 344.60,415.40000000000003" fill="none" stroke="#484848" stroke-width="1.4"/>
<path d="M354.80,366.2 Q354.80,364 357.00,364 M365.50,364 Q367.70,364 367.70,366.2" fill="none" stroke="#484848" stroke-width="1.4"/>
<path d="M354.80,415.40000000000003 Q354.80,417.6 357.00,417.6 M365.50,417.6 Q367.70,417.6 367.70,415.40000000000003" fill="none" stroke="#484848" stroke-width="1.4"/>
<path d="M377.90,366.2 Q377.90,364 380.10,364 M388.60,364 Q390.80,364 390.80,366.2" fill="none" stroke="#484848" stroke-width="1.4"/>
<path d="M377.90,415.40000000000003 Q377.90,417.6 380.10,417.6 M388.60,417.6 Q390.80,417.6 390.80,415.40000000000003" fill="none" stroke="#484848" stroke-width="1.4"/>
<path d="M401.00,366.2 Q401.00,364 403.20,364 M411.70,364 Q413.90,364 413.90,366.2" fill="none" stroke="#484848" stroke-width="1.4"/>
<path d="M401.00,415.40000000000003 Q401.00,417.6 403.20,417.6 M411.70,417.6 Q413.90,417.6 413.90,415.40000000000003" fill="none" stroke="#484848" stroke-width="1.4"/>
<path d="M424.10,366.2 Q424.10,364 426.30,364 M434.80,364 Q437.00,364 437.00,366.2" fill="none" stroke="#484848" stroke-width="1.4"/>
<path d="M424.10,415.40000000000003 Q424.10,417.6 426.30,417.6 M434.80,417.6 Q437.00,417.6 437.00,415.40000000000003" fill="none" stroke="#484848" stroke-width="1.4"/>
<path d="M447.20,366.2 Q447.20,364 449.40,364 M457.90,364 Q460.10,364 460.10,366.2" fill="none" stroke="#484848" stroke-width="1.4"/>
<path d="M447.20,415.40000000000003 Q447.20,417.6 449.40,417.6 M457.90,417.6 Q460.10,417.6 460.10,415.40000000000003" fill="none" stroke="#484848" stroke-width="1.4"/>
<path d="M470.30,366.2 Q470.30,364 472.50,364 M481.00,364 Q483.20,364 483.20,366.2" fill="none" stroke="#484848" stroke-width="1.4"/>
<path d="M470.30,415.40000000000003 Q470.30,417.6 472.50,417.6 M481.00,417.6 Q483.20,417.6 483.20,415.40000000000003" fill="none" stroke="#484848" stroke-width="1.4"/>
<rect x="273.00" y="359.20" width="14.00" height="63.30" fill="#fff" stroke="#3e3e3e" stroke-width="1.9"/>
<line x1="505.00" y1="363.70" x2="505.00" y2="417.60" stroke="#3e3e3e" stroke-width="1.4"/>
<line x1="519.00" y1="363.70" x2="519.00" y2="417.60" stroke="#3e3e3e" stroke-width="1.4"/>
<rect x="519.00" y="381.70" width="11.50" height="14.80" fill="#fff" stroke="#3e3e3e" stroke-width="1.1"/>
<rect x="529.50" y="379.00" width="4.80" height="20.00" fill="#8a8a8a" stroke="#3e3e3e" stroke-width="1.1" rx="1.2"/>
<g clip-path="url(#c4)">
<rect x="39.50" y="355.30" width="160.50" height="68.70" fill="#fff"/>
<rect x="39.50" y="357.80" width="160.50" height="66.00" fill="#919191"/>
<line x1="38.95" y1="358.20" x2="38.95" y2="423.40" stroke="#737373" stroke-width="1.0"/>
<rect x="41.10" y="358.20" width="5.00" height="65.20" fill="#fff" stroke="#454545" stroke-width="1.3" rx="1.8"/>
<line x1="48.25" y1="358.20" x2="48.25" y2="423.40" stroke="#737373" stroke-width="1.0"/>
<rect x="50.39" y="358.20" width="5.00" height="65.20" fill="#fff" stroke="#454545" stroke-width="1.3" rx="1.8"/>
<line x1="57.53" y1="358.20" x2="57.53" y2="423.40" stroke="#737373" stroke-width="1.0"/>
<rect x="59.68" y="358.20" width="5.00" height="65.20" fill="#fff" stroke="#454545" stroke-width="1.3" rx="1.8"/>
<line x1="66.83" y1="358.20" x2="66.83" y2="423.40" stroke="#737373" stroke-width="1.0"/>
<rect x="68.97" y="358.20" width="5.00" height="65.20" fill="#fff" stroke="#454545" stroke-width="1.3" rx="1.8"/>
<line x1="76.11" y1="358.20" x2="76.11" y2="423.40" stroke="#737373" stroke-width="1.0"/>
<rect x="78.26" y="358.20" width="5.00" height="65.20" fill="#fff" stroke="#454545" stroke-width="1.3" rx="1.8"/>
<line x1="85.40" y1="358.20" x2="85.40" y2="423.40" stroke="#737373" stroke-width="1.0"/>
<rect x="87.55" y="358.20" width="5.00" height="65.20" fill="#fff" stroke="#454545" stroke-width="1.3" rx="1.8"/>
<line x1="94.69" y1="358.20" x2="94.69" y2="423.40" stroke="#737373" stroke-width="1.0"/>
<rect x="96.84" y="358.20" width="5.00" height="65.20" fill="#fff" stroke="#454545" stroke-width="1.3" rx="1.8"/>
<line x1="103.98" y1="358.20" x2="103.98" y2="423.40" stroke="#737373" stroke-width="1.0"/>
<rect x="106.13" y="358.20" width="5.00" height="65.20" fill="#fff" stroke="#454545" stroke-width="1.3" rx="1.8"/>
<line x1="113.27" y1="358.20" x2="113.27" y2="423.40" stroke="#737373" stroke-width="1.0"/>
<rect x="115.42" y="358.20" width="5.00" height="65.20" fill="#fff" stroke="#454545" stroke-width="1.3" rx="1.8"/>
<line x1="122.56" y1="358.20" x2="122.56" y2="423.40" stroke="#737373" stroke-width="1.0"/>
<rect x="124.71" y="358.20" width="5.00" height="65.20" fill="#fff" stroke="#454545" stroke-width="1.3" rx="1.8"/>
<line x1="131.85" y1="358.20" x2="131.85" y2="423.40" stroke="#737373" stroke-width="1.0"/>
<rect x="134.00" y="358.20" width="5.00" height="65.20" fill="#fff" stroke="#454545" stroke-width="1.3" rx="1.8"/>
<line x1="141.14" y1="358.20" x2="141.14" y2="423.40" stroke="#737373" stroke-width="1.0"/>
<rect x="143.29" y="358.20" width="5.00" height="65.20" fill="#fff" stroke="#454545" stroke-width="1.3" rx="1.8"/>
<line x1="150.43" y1="358.20" x2="150.43" y2="423.40" stroke="#737373" stroke-width="1.0"/>
<rect x="152.58" y="358.20" width="5.00" height="65.20" fill="#fff" stroke="#454545" stroke-width="1.3" rx="1.8"/>
<line x1="159.72" y1="358.20" x2="159.72" y2="423.40" stroke="#737373" stroke-width="1.0"/>
<rect x="161.87" y="358.20" width="5.00" height="65.20" fill="#fff" stroke="#454545" stroke-width="1.3" rx="1.8"/>
<line x1="169.01" y1="358.20" x2="169.01" y2="423.40" stroke="#737373" stroke-width="1.0"/>
<rect x="171.16" y="358.20" width="5.00" height="65.20" fill="#fff" stroke="#454545" stroke-width="1.3" rx="1.8"/>
<line x1="178.30" y1="358.20" x2="178.30" y2="423.40" stroke="#737373" stroke-width="1.0"/>
<rect x="180.45" y="358.20" width="5.00" height="65.20" fill="#fff" stroke="#454545" stroke-width="1.3" rx="1.8"/>
<line x1="187.59" y1="358.20" x2="187.59" y2="423.40" stroke="#737373" stroke-width="1.0"/>
<rect x="189.74" y="358.20" width="5.00" height="65.20" fill="#fff" stroke="#454545" stroke-width="1.3" rx="1.8"/>
<line x1="196.88" y1="358.20" x2="196.88" y2="423.40" stroke="#737373" stroke-width="1.0"/>
<rect x="199.03" y="358.20" width="5.00" height="65.20" fill="#fff" stroke="#454545" stroke-width="1.3" rx="1.8"/>
<line x1="206.17" y1="358.20" x2="206.17" y2="423.40" stroke="#737373" stroke-width="1.0"/>
<rect x="208.32" y="358.20" width="5.00" height="65.20" fill="#fff" stroke="#454545" stroke-width="1.3" rx="1.8"/>
</g>
<line x1="167.00" y1="368.00" x2="197.00" y2="420.00" stroke="#3e3e3e" stroke-width="1.4"/>
<line x1="167.00" y1="358.00" x2="167.00" y2="423.00" stroke="#3e3e3e" stroke-width="1.3"/>
<rect x="39.50" y="351.30" width="126.50" height="1.10" fill="#555"/>
<rect x="39.50" y="352.40" width="126.50" height="2.00" fill="#9a9a9a"/>
<rect x="39.50" y="354.40" width="126.50" height="0.90" fill="#6a6a6a"/>
<rect x="39.50" y="424.20" width="157.50" height="1.20" fill="#555"/>
<rect x="39.50" y="425.40" width="157.50" height="4.00" fill="#8a8a8a"/>
<rect x="39.50" y="429.40" width="157.50" height="1.60" fill="#4a4a4a"/>
<rect x="39.30" y="351.80" width="2.30" height="79.20" fill="#262626"/>
<rect x="10.80" y="352.00" width="28.50" height="78.50" fill="#fff" stroke="#505050" stroke-width="1.5"/>
<rect x="79.50" y="348.00" width="74.25" height="4.00" fill="#939393" stroke="#404040" stroke-width="1.0"/>
<rect x="89.50" y="344.50" width="54.25" height="7.50" fill="#959595" stroke="#404040" stroke-width="1.0"/>
<rect x="93.70" y="348.62" width="45.85" height="2.88" fill="#c6c6c6"/>
<line x1="93.70" y1="348.62" x2="93.70" y2="352.00" stroke="#3a3a3a" stroke-width="1.2"/>
<line x1="139.55" y1="348.62" x2="139.55" y2="352.00" stroke="#3a3a3a" stroke-width="1.2"/>
<line x1="93.70" y1="348.62" x2="139.55" y2="348.62" stroke="#6a6a6a" stroke-width="0.8"/>
<line x1="90.50" y1="345.90" x2="142.75" y2="345.90" stroke="#a0a0a0" stroke-width="0.8"/>
<rect x="392.00" y="348.00" width="75.00" height="4.00" fill="#939393" stroke="#404040" stroke-width="1.0"/>
<rect x="402.80" y="344.60" width="53.20" height="7.40" fill="#959595" stroke="#404040" stroke-width="1.0"/>
<rect x="407.00" y="348.67" width="44.80" height="2.83" fill="#c6c6c6"/>
<line x1="407.00" y1="348.67" x2="407.00" y2="352.00" stroke="#3a3a3a" stroke-width="1.2"/>
<line x1="451.80" y1="348.67" x2="451.80" y2="352.00" stroke="#3a3a3a" stroke-width="1.2"/>
<line x1="407.00" y1="348.67" x2="451.80" y2="348.67" stroke="#6a6a6a" stroke-width="0.8"/>
<line x1="403.80" y1="346.00" x2="455.00" y2="346.00" stroke="#a0a0a0" stroke-width="0.8"/>
<text x="0" y="0" transform="translate(580.3,426.3) scale(0.93,1)" font-family="Liberation Sans, sans-serif" font-size="30" fill="#151515" stroke="#151515" stroke-width="0.45">тип 22</text>
<rect x="168.00" y="466.30" width="360.30" height="2.00" fill="#b4b4b4"/>
<rect x="168.00" y="468.30" width="360.30" height="1.50" fill="#4a4a4a"/>
<rect x="168.00" y="469.80" width="360.30" height="3.00" fill="#9c9c9c"/>
<rect x="168.00" y="472.80" width="360.30" height="1.00" fill="#666666"/>
<rect x="168.00" y="473.80" width="360.30" height="3.70" fill="#a4a4a4"/>
<rect x="168.00" y="477.50" width="360.30" height="1.70" fill="#454545"/>
<path d="M528.3,466.3 L532.30,471.5 L532.30,476.3 L528.3,479.2 Z" fill="#a0a0a0" stroke="#3e3e3e" stroke-width="0.9"/>
<rect x="532.30" y="471.50" width="5.40" height="4.80" fill="#4a4a4a"/>
<rect x="532.30" y="472.84" width="4.20" height="2.11" fill="#f0f0f0"/>
<rect x="171.00" y="502.80" width="357.30" height="1.40" fill="#4a4a4a"/>
<rect x="171.00" y="504.20" width="357.30" height="1.80" fill="#dddddd"/>
<rect x="171.00" y="506.00" width="357.30" height="1.20" fill="#4a4a4a"/>
<rect x="171.00" y="507.20" width="357.30" height="2.00" fill="#e8e8e8"/>
<rect x="171.00" y="509.20" width="357.30" height="1.30" fill="#505050"/>
<rect x="171.00" y="510.50" width="357.30" height="2.00" fill="#cccccc"/>
<rect x="171.00" y="512.50" width="357.30" height="1.30" fill="#4a4a4a"/>
<rect x="171.00" y="513.80" width="357.30" height="1.80" fill="#dddddd"/>
<path d="M528.3,502.8 L532.30,507.6 L532.30,511.9 L528.3,515.6 Z" fill="#a0a0a0" stroke="#3e3e3e" stroke-width="0.9"/>
<rect x="532.30" y="507.60" width="5.40" height="4.30" fill="#4a4a4a"/>
<rect x="532.30" y="508.80" width="4.20" height="1.89" fill="#f0f0f0"/>
<path d="M182.50,479.3 V499.2 Q182.50,502.2 185.50,502.2 H191.30 Q194.30,502.2 194.30,499.2 V479.3" fill="none" stroke="#3a3a3a" stroke-width="1.9"/>
<path d="M182.50,514.7 V535 Q182.50,538 185.50,538 H191.30 Q194.30,538 194.30,535 V514.7" fill="none" stroke="#3a3a3a" stroke-width="1.9"/>
<path d="M205.77,479.3 V499.2 Q205.77,502.2 208.77,502.2 H214.57 Q217.57,502.2 217.57,499.2 V479.3" fill="none" stroke="#3a3a3a" stroke-width="1.9"/>
<path d="M205.77,514.7 V535 Q205.77,538 208.77,538 H214.57 Q217.57,538 217.57,535 V514.7" fill="none" stroke="#3a3a3a" stroke-width="1.9"/>
<path d="M229.04,479.3 V499.2 Q229.04,502.2 232.04,502.2 H237.84 Q240.84,502.2 240.84,499.2 V479.3" fill="none" stroke="#3a3a3a" stroke-width="1.9"/>
<path d="M229.04,514.7 V535 Q229.04,538 232.04,538 H237.84 Q240.84,538 240.84,535 V514.7" fill="none" stroke="#3a3a3a" stroke-width="1.9"/>
<path d="M252.31,479.3 V499.2 Q252.31,502.2 255.31,502.2 H261.11 Q264.11,502.2 264.11,499.2 V479.3" fill="none" stroke="#3a3a3a" stroke-width="1.9"/>
<path d="M252.31,514.7 V535 Q252.31,538 255.31,538 H261.11 Q264.11,538 264.11,535 V514.7" fill="none" stroke="#3a3a3a" stroke-width="1.9"/>
<path d="M298.85,479.3 V499.2 Q298.85,502.2 301.85,502.2 H307.65 Q310.65,502.2 310.65,499.2 V479.3" fill="none" stroke="#3a3a3a" stroke-width="1.9"/>
<path d="M298.85,514.7 V535 Q298.85,538 301.85,538 H307.65 Q310.65,538 310.65,535 V514.7" fill="none" stroke="#3a3a3a" stroke-width="1.9"/>
<path d="M322.12,479.3 V499.2 Q322.12,502.2 325.12,502.2 H330.92 Q333.92,502.2 333.92,499.2 V479.3" fill="none" stroke="#3a3a3a" stroke-width="1.9"/>
<path d="M322.12,514.7 V535 Q322.12,538 325.12,538 H330.92 Q333.92,538 333.92,535 V514.7" fill="none" stroke="#3a3a3a" stroke-width="1.9"/>
<path d="M345.39,479.3 V499.2 Q345.39,502.2 348.39,502.2 H354.19 Q357.19,502.2 357.19,499.2 V479.3" fill="none" stroke="#3a3a3a" stroke-width="1.9"/>
<path d="M345.39,514.7 V535 Q345.39,538 348.39,538 H354.19 Q357.19,538 357.19,535 V514.7" fill="none" stroke="#3a3a3a" stroke-width="1.9"/>
<path d="M368.66,479.3 V499.2 Q368.66,502.2 371.66,502.2 H377.46 Q380.46,502.2 380.46,499.2 V479.3" fill="none" stroke="#3a3a3a" stroke-width="1.9"/>
<path d="M368.66,514.7 V535 Q368.66,538 371.66,538 H377.46 Q380.46,538 380.46,535 V514.7" fill="none" stroke="#3a3a3a" stroke-width="1.9"/>
<path d="M391.93,479.3 V499.2 Q391.93,502.2 394.93,502.2 H400.73 Q403.73,502.2 403.73,499.2 V479.3" fill="none" stroke="#3a3a3a" stroke-width="1.9"/>
<path d="M391.93,514.7 V535 Q391.93,538 394.93,538 H400.73 Q403.73,538 403.73,535 V514.7" fill="none" stroke="#3a3a3a" stroke-width="1.9"/>
<path d="M415.20,479.3 V499.2 Q415.20,502.2 418.20,502.2 H424.00 Q427.00,502.2 427.00,499.2 V479.3" fill="none" stroke="#3a3a3a" stroke-width="1.9"/>
<path d="M415.20,514.7 V535 Q415.20,538 418.20,538 H424.00 Q427.00,538 427.00,535 V514.7" fill="none" stroke="#3a3a3a" stroke-width="1.9"/>
<path d="M438.47,479.3 V499.2 Q438.47,502.2 441.47,502.2 H447.27 Q450.27,502.2 450.27,499.2 V479.3" fill="none" stroke="#3a3a3a" stroke-width="1.9"/>
<path d="M438.47,514.7 V535 Q438.47,538 441.47,538 H447.27 Q450.27,538 450.27,535 V514.7" fill="none" stroke="#3a3a3a" stroke-width="1.9"/>
<path d="M461.74,479.3 V499.2 Q461.74,502.2 464.74,502.2 H470.54 Q473.54,502.2 473.54,499.2 V479.3" fill="none" stroke="#3a3a3a" stroke-width="1.9"/>
<path d="M461.74,514.7 V535 Q461.74,538 464.74,538 H470.54 Q473.54,538 473.54,535 V514.7" fill="none" stroke="#3a3a3a" stroke-width="1.9"/>
<path d="M485.01,479.3 V499.2 Q485.01,502.2 488.01,502.2 H493.81 Q496.81,502.2 496.81,499.2 V479.3" fill="none" stroke="#3a3a3a" stroke-width="1.9"/>
<path d="M485.01,514.7 V535 Q485.01,538 488.01,538 H493.81 Q496.81,538 496.81,535 V514.7" fill="none" stroke="#3a3a3a" stroke-width="1.9"/>
<path d="M171.03,503.2 V484 Q171.03,481 174.03,481 H179.50 Q182.50,481 182.50,484" fill="none" stroke="#3e3e3e" stroke-width="1.3"/>
<path d="M171.03,545 V519.5 Q171.03,516.5 174.03,516.5 H179.50 Q182.50,516.5 182.50,519.5" fill="none" stroke="#3e3e3e" stroke-width="1.3"/>
<path d="M194.30,484 Q194.30,481 197.30,481 H202.77 Q205.77,481 205.77,484" fill="none" stroke="#3e3e3e" stroke-width="1.3"/>
<path d="M194.30,519.5 Q194.30,516.5 197.30,516.5 H202.77 Q205.77,516.5 205.77,519.5" fill="none" stroke="#3e3e3e" stroke-width="1.3"/>
<path d="M217.57,484 Q217.57,481 220.57,481 H226.04 Q229.04,481 229.04,484" fill="none" stroke="#3e3e3e" stroke-width="1.3"/>
<path d="M217.57,519.5 Q217.57,516.5 220.57,516.5 H226.04 Q229.04,516.5 229.04,519.5" fill="none" stroke="#3e3e3e" stroke-width="1.3"/>
<path d="M240.84,484 Q240.84,481 243.84,481 H249.31 Q252.31,481 252.31,484" fill="none" stroke="#3e3e3e" stroke-width="1.3"/>
<path d="M240.84,519.5 Q240.84,516.5 243.84,516.5 H249.31 Q252.31,516.5 252.31,519.5" fill="none" stroke="#3e3e3e" stroke-width="1.3"/>
<path d="M264.11,484 Q264.11,481 267.11,481 H274" fill="none" stroke="#3e3e3e" stroke-width="1.3"/>
<path d="M264.11,519.5 Q264.11,516.5 267.11,516.5 H274" fill="none" stroke="#3e3e3e" stroke-width="1.3"/>
<path d="M288,481 H295.85 Q298.85,481 298.85,484" fill="none" stroke="#3e3e3e" stroke-width="1.3"/>
<path d="M288,516.5 H295.85 Q298.85,516.5 298.85,519.5" fill="none" stroke="#3e3e3e" stroke-width="1.3"/>
<path d="M310.65,484 Q310.65,481 313.65,481 H319.12 Q322.12,481 322.12,484" fill="none" stroke="#3e3e3e" stroke-width="1.3"/>
<path d="M310.65,519.5 Q310.65,516.5 313.65,516.5 H319.12 Q322.12,516.5 322.12,519.5" fill="none" stroke="#3e3e3e" stroke-width="1.3"/>
<path d="M333.92,484 Q333.92,481 336.92,481 H342.39 Q345.39,481 345.39,484" fill="none" stroke="#3e3e3e" stroke-width="1.3"/>
<path d="M333.92,519.5 Q333.92,516.5 336.92,516.5 H342.39 Q345.39,516.5 345.39,519.5" fill="none" stroke="#3e3e3e" stroke-width="1.3"/>
<path d="M357.19,484 Q357.19,481 360.19,481 H365.66 Q368.66,481 368.66,484" fill="none" stroke="#3e3e3e" stroke-width="1.3"/>
<path d="M357.19,519.5 Q357.19,516.5 360.19,516.5 H365.66 Q368.66,516.5 368.66,519.5" fill="none" stroke="#3e3e3e" stroke-width="1.3"/>
<path d="M380.46,484 Q380.46,481 383.46,481 H388.93 Q391.93,481 391.93,484" fill="none" stroke="#3e3e3e" stroke-width="1.3"/>
<path d="M380.46,519.5 Q380.46,516.5 383.46,516.5 H388.93 Q391.93,516.5 391.93,519.5" fill="none" stroke="#3e3e3e" stroke-width="1.3"/>
<path d="M403.73,484 Q403.73,481 406.73,481 H412.20 Q415.20,481 415.20,484" fill="none" stroke="#3e3e3e" stroke-width="1.3"/>
<path d="M403.73,519.5 Q403.73,516.5 406.73,516.5 H412.20 Q415.20,516.5 415.20,519.5" fill="none" stroke="#3e3e3e" stroke-width="1.3"/>
<path d="M427.00,484 Q427.00,481 430.00,481 H435.47 Q438.47,481 438.47,484" fill="none" stroke="#3e3e3e" stroke-width="1.3"/>
<path d="M427.00,519.5 Q427.00,516.5 430.00,516.5 H435.47 Q438.47,516.5 438.47,519.5" fill="none" stroke="#3e3e3e" stroke-width="1.3"/>
<path d="M450.27,484 Q450.27,481 453.27,481 H458.74 Q461.74,481 461.74,484" fill="none" stroke="#3e3e3e" stroke-width="1.3"/>
<path d="M450.27,519.5 Q450.27,516.5 453.27,516.5 H458.74 Q461.74,516.5 461.74,519.5" fill="none" stroke="#3e3e3e" stroke-width="1.3"/>
<path d="M473.54,484 Q473.54,481 476.54,481 H482.01 Q485.01,481 485.01,484" fill="none" stroke="#3e3e3e" stroke-width="1.3"/>
<path d="M473.54,519.5 Q473.54,516.5 476.54,516.5 H482.01 Q485.01,516.5 485.01,519.5" fill="none" stroke="#3e3e3e" stroke-width="1.3"/>
<rect x="274.20" y="476.00" width="14.00" height="31.30" fill="#fff" stroke="#3e3e3e" stroke-width="1.6"/>
<rect x="274.20" y="511.80" width="14.00" height="33.20" fill="#fff" stroke="#3e3e3e" stroke-width="1.6"/>
<line x1="508.60" y1="479.30" x2="508.60" y2="503.20" stroke="#3e3e3e" stroke-width="1.4"/>
<line x1="522.80" y1="479.30" x2="522.80" y2="503.20" stroke="#3e3e3e" stroke-width="1.4"/>
<line x1="508.60" y1="514.70" x2="508.60" y2="545.00" stroke="#3e3e3e" stroke-width="1.4"/>
<line x1="522.80" y1="514.70" x2="522.80" y2="545.00" stroke="#3e3e3e" stroke-width="1.4"/>
<rect x="522.80" y="530.60" width="11.20" height="17.40" fill="#fff" stroke="#3e3e3e" stroke-width="1.1"/>
<rect x="533.50" y="529.00" width="4.30" height="19.00" fill="#8a8a8a" stroke="#3e3e3e" stroke-width="1.1" rx="1.2"/>
<g clip-path="url(#c5)">
<rect x="37.50" y="472.30" width="142.50" height="68.70" fill="#fff"/>
<rect x="37.50" y="474.40" width="142.50" height="29.60" fill="#919191"/>
<line x1="37.27" y1="474.80" x2="37.27" y2="503.60" stroke="#737373" stroke-width="1.0"/>
<rect x="39.50" y="474.80" width="5.00" height="28.80" fill="#fff" stroke="#454545" stroke-width="1.3" rx="1.8"/>
<line x1="46.73" y1="474.80" x2="46.73" y2="503.60" stroke="#737373" stroke-width="1.0"/>
<rect x="48.95" y="474.80" width="5.00" height="28.80" fill="#fff" stroke="#454545" stroke-width="1.3" rx="1.8"/>
<line x1="56.18" y1="474.80" x2="56.18" y2="503.60" stroke="#737373" stroke-width="1.0"/>
<rect x="58.40" y="474.80" width="5.00" height="28.80" fill="#fff" stroke="#454545" stroke-width="1.3" rx="1.8"/>
<line x1="65.63" y1="474.80" x2="65.63" y2="503.60" stroke="#737373" stroke-width="1.0"/>
<rect x="67.85" y="474.80" width="5.00" height="28.80" fill="#fff" stroke="#454545" stroke-width="1.3" rx="1.8"/>
<line x1="75.08" y1="474.80" x2="75.08" y2="503.60" stroke="#737373" stroke-width="1.0"/>
<rect x="77.30" y="474.80" width="5.00" height="28.80" fill="#fff" stroke="#454545" stroke-width="1.3" rx="1.8"/>
<line x1="84.53" y1="474.80" x2="84.53" y2="503.60" stroke="#737373" stroke-width="1.0"/>
<rect x="86.75" y="474.80" width="5.00" height="28.80" fill="#fff" stroke="#454545" stroke-width="1.3" rx="1.8"/>
<line x1="93.98" y1="474.80" x2="93.98" y2="503.60" stroke="#737373" stroke-width="1.0"/>
<rect x="96.20" y="474.80" width="5.00" height="28.80" fill="#fff" stroke="#454545" stroke-width="1.3" rx="1.8"/>
<line x1="103.43" y1="474.80" x2="103.43" y2="503.60" stroke="#737373" stroke-width="1.0"/>
<rect x="105.65" y="474.80" width="5.00" height="28.80" fill="#fff" stroke="#454545" stroke-width="1.3" rx="1.8"/>
<line x1="112.88" y1="474.80" x2="112.88" y2="503.60" stroke="#737373" stroke-width="1.0"/>
<rect x="115.10" y="474.80" width="5.00" height="28.80" fill="#fff" stroke="#454545" stroke-width="1.3" rx="1.8"/>
<line x1="122.33" y1="474.80" x2="122.33" y2="503.60" stroke="#737373" stroke-width="1.0"/>
<rect x="124.55" y="474.80" width="5.00" height="28.80" fill="#fff" stroke="#454545" stroke-width="1.3" rx="1.8"/>
<line x1="131.78" y1="474.80" x2="131.78" y2="503.60" stroke="#737373" stroke-width="1.0"/>
<rect x="134.00" y="474.80" width="5.00" height="28.80" fill="#fff" stroke="#454545" stroke-width="1.3" rx="1.8"/>
<line x1="141.23" y1="474.80" x2="141.23" y2="503.60" stroke="#737373" stroke-width="1.0"/>
<rect x="143.45" y="474.80" width="5.00" height="28.80" fill="#fff" stroke="#454545" stroke-width="1.3" rx="1.8"/>
<line x1="150.68" y1="474.80" x2="150.68" y2="503.60" stroke="#737373" stroke-width="1.0"/>
<rect x="152.90" y="474.80" width="5.00" height="28.80" fill="#fff" stroke="#454545" stroke-width="1.3" rx="1.8"/>
<line x1="160.12" y1="474.80" x2="160.12" y2="503.60" stroke="#737373" stroke-width="1.0"/>
<rect x="162.35" y="474.80" width="5.00" height="28.80" fill="#fff" stroke="#454545" stroke-width="1.3" rx="1.8"/>
<line x1="169.57" y1="474.80" x2="169.57" y2="503.60" stroke="#737373" stroke-width="1.0"/>
<rect x="171.80" y="474.80" width="5.00" height="28.80" fill="#fff" stroke="#454545" stroke-width="1.3" rx="1.8"/>
<line x1="179.02" y1="474.80" x2="179.02" y2="503.60" stroke="#737373" stroke-width="1.0"/>
<rect x="181.25" y="474.80" width="5.00" height="28.80" fill="#fff" stroke="#454545" stroke-width="1.3" rx="1.8"/>
<line x1="188.47" y1="474.80" x2="188.47" y2="503.60" stroke="#737373" stroke-width="1.0"/>
<rect x="190.70" y="474.80" width="5.00" height="28.80" fill="#fff" stroke="#454545" stroke-width="1.3" rx="1.8"/>
<rect x="37.50" y="510.40" width="142.50" height="35.00" fill="#919191"/>
<line x1="37.27" y1="510.80" x2="37.27" y2="545.00" stroke="#737373" stroke-width="1.0"/>
<rect x="39.50" y="510.80" width="5.00" height="34.20" fill="#fff" stroke="#454545" stroke-width="1.3" rx="1.8"/>
<line x1="46.73" y1="510.80" x2="46.73" y2="545.00" stroke="#737373" stroke-width="1.0"/>
<rect x="48.95" y="510.80" width="5.00" height="34.20" fill="#fff" stroke="#454545" stroke-width="1.3" rx="1.8"/>
<line x1="56.18" y1="510.80" x2="56.18" y2="545.00" stroke="#737373" stroke-width="1.0"/>
<rect x="58.40" y="510.80" width="5.00" height="34.20" fill="#fff" stroke="#454545" stroke-width="1.3" rx="1.8"/>
<line x1="65.63" y1="510.80" x2="65.63" y2="545.00" stroke="#737373" stroke-width="1.0"/>
<rect x="67.85" y="510.80" width="5.00" height="34.20" fill="#fff" stroke="#454545" stroke-width="1.3" rx="1.8"/>
<line x1="75.08" y1="510.80" x2="75.08" y2="545.00" stroke="#737373" stroke-width="1.0"/>
<rect x="77.30" y="510.80" width="5.00" height="34.20" fill="#fff" stroke="#454545" stroke-width="1.3" rx="1.8"/>
<line x1="84.53" y1="510.80" x2="84.53" y2="545.00" stroke="#737373" stroke-width="1.0"/>
<rect x="86.75" y="510.80" width="5.00" height="34.20" fill="#fff" stroke="#454545" stroke-width="1.3" rx="1.8"/>
<line x1="93.98" y1="510.80" x2="93.98" y2="545.00" stroke="#737373" stroke-width="1.0"/>
<rect x="96.20" y="510.80" width="5.00" height="34.20" fill="#fff" stroke="#454545" stroke-width="1.3" rx="1.8"/>
<line x1="103.43" y1="510.80" x2="103.43" y2="545.00" stroke="#737373" stroke-width="1.0"/>
<rect x="105.65" y="510.80" width="5.00" height="34.20" fill="#fff" stroke="#454545" stroke-width="1.3" rx="1.8"/>
<line x1="112.88" y1="510.80" x2="112.88" y2="545.00" stroke="#737373" stroke-width="1.0"/>
<rect x="115.10" y="510.80" width="5.00" height="34.20" fill="#fff" stroke="#454545" stroke-width="1.3" rx="1.8"/>
<line x1="122.33" y1="510.80" x2="122.33" y2="545.00" stroke="#737373" stroke-width="1.0"/>
<rect x="124.55" y="510.80" width="5.00" height="34.20" fill="#fff" stroke="#454545" stroke-width="1.3" rx="1.8"/>
<line x1="131.78" y1="510.80" x2="131.78" y2="545.00" stroke="#737373" stroke-width="1.0"/>
<rect x="134.00" y="510.80" width="5.00" height="34.20" fill="#fff" stroke="#454545" stroke-width="1.3" rx="1.8"/>
<line x1="141.23" y1="510.80" x2="141.23" y2="545.00" stroke="#737373" stroke-width="1.0"/>
<rect x="143.45" y="510.80" width="5.00" height="34.20" fill="#fff" stroke="#454545" stroke-width="1.3" rx="1.8"/>
<line x1="150.68" y1="510.80" x2="150.68" y2="545.00" stroke="#737373" stroke-width="1.0"/>
<rect x="152.90" y="510.80" width="5.00" height="34.20" fill="#fff" stroke="#454545" stroke-width="1.3" rx="1.8"/>
<line x1="160.12" y1="510.80" x2="160.12" y2="545.00" stroke="#737373" stroke-width="1.0"/>
<rect x="162.35" y="510.80" width="5.00" height="34.20" fill="#fff" stroke="#454545" stroke-width="1.3" rx="1.8"/>
<line x1="169.57" y1="510.80" x2="169.57" y2="545.00" stroke="#737373" stroke-width="1.0"/>
<rect x="171.80" y="510.80" width="5.00" height="34.20" fill="#fff" stroke="#454545" stroke-width="1.3" rx="1.8"/>
<line x1="179.02" y1="510.80" x2="179.02" y2="545.00" stroke="#737373" stroke-width="1.0"/>
<rect x="181.25" y="510.80" width="5.00" height="34.20" fill="#fff" stroke="#454545" stroke-width="1.3" rx="1.8"/>
<line x1="188.47" y1="510.80" x2="188.47" y2="545.00" stroke="#737373" stroke-width="1.0"/>
<rect x="190.70" y="510.80" width="5.00" height="34.20" fill="#fff" stroke="#454545" stroke-width="1.3" rx="1.8"/>
</g>
<line x1="167.50" y1="474.00" x2="171.00" y2="503.00" stroke="#3e3e3e" stroke-width="1.3"/>
<rect x="37.50" y="469.20" width="130.50" height="1.00" fill="#555"/>
<rect x="37.50" y="470.20" width="130.50" height="1.40" fill="#9a9a9a"/>
<rect x="37.50" y="471.60" width="130.50" height="0.70" fill="#6a6a6a"/>
<rect x="37.30" y="469.40" width="2.30" height="71.60" fill="#262626"/>
<rect x="9.80" y="469.50" width="27.50" height="75.50" fill="#fff" stroke="#505050" stroke-width="1.5"/>
<rect x="77.50" y="466.00" width="76.25" height="4.00" fill="#939393" stroke="#404040" stroke-width="1.0"/>
<rect x="87.50" y="463.00" width="53.75" height="7.00" fill="#959595" stroke="#404040" stroke-width="1.0"/>
<rect x="91.70" y="466.85" width="45.35" height="2.65" fill="#c6c6c6"/>
<line x1="91.70" y1="466.85" x2="91.70" y2="470.00" stroke="#3a3a3a" stroke-width="1.2"/>
<line x1="137.05" y1="466.85" x2="137.05" y2="470.00" stroke="#3a3a3a" stroke-width="1.2"/>
<line x1="91.70" y1="466.85" x2="137.05" y2="466.85" stroke="#6a6a6a" stroke-width="0.8"/>
<line x1="88.50" y1="464.40" x2="140.25" y2="464.40" stroke="#a0a0a0" stroke-width="0.8"/>
<rect x="394.00" y="465.50" width="76.60" height="3.50" fill="#939393" stroke="#404040" stroke-width="1.0"/>
<rect x="405.00" y="462.00" width="54.40" height="7.00" fill="#959595" stroke="#404040" stroke-width="1.0"/>
<rect x="409.20" y="465.85" width="46.00" height="2.65" fill="#c6c6c6"/>
<line x1="409.20" y1="465.85" x2="409.20" y2="469.00" stroke="#3a3a3a" stroke-width="1.2"/>
<line x1="455.20" y1="465.85" x2="455.20" y2="469.00" stroke="#3a3a3a" stroke-width="1.2"/>
<line x1="409.20" y1="465.85" x2="455.20" y2="465.85" stroke="#6a6a6a" stroke-width="0.8"/>
<line x1="406.00" y1="463.40" x2="458.40" y2="463.40" stroke="#a0a0a0" stroke-width="0.8"/>
</svg>
</body></html>
